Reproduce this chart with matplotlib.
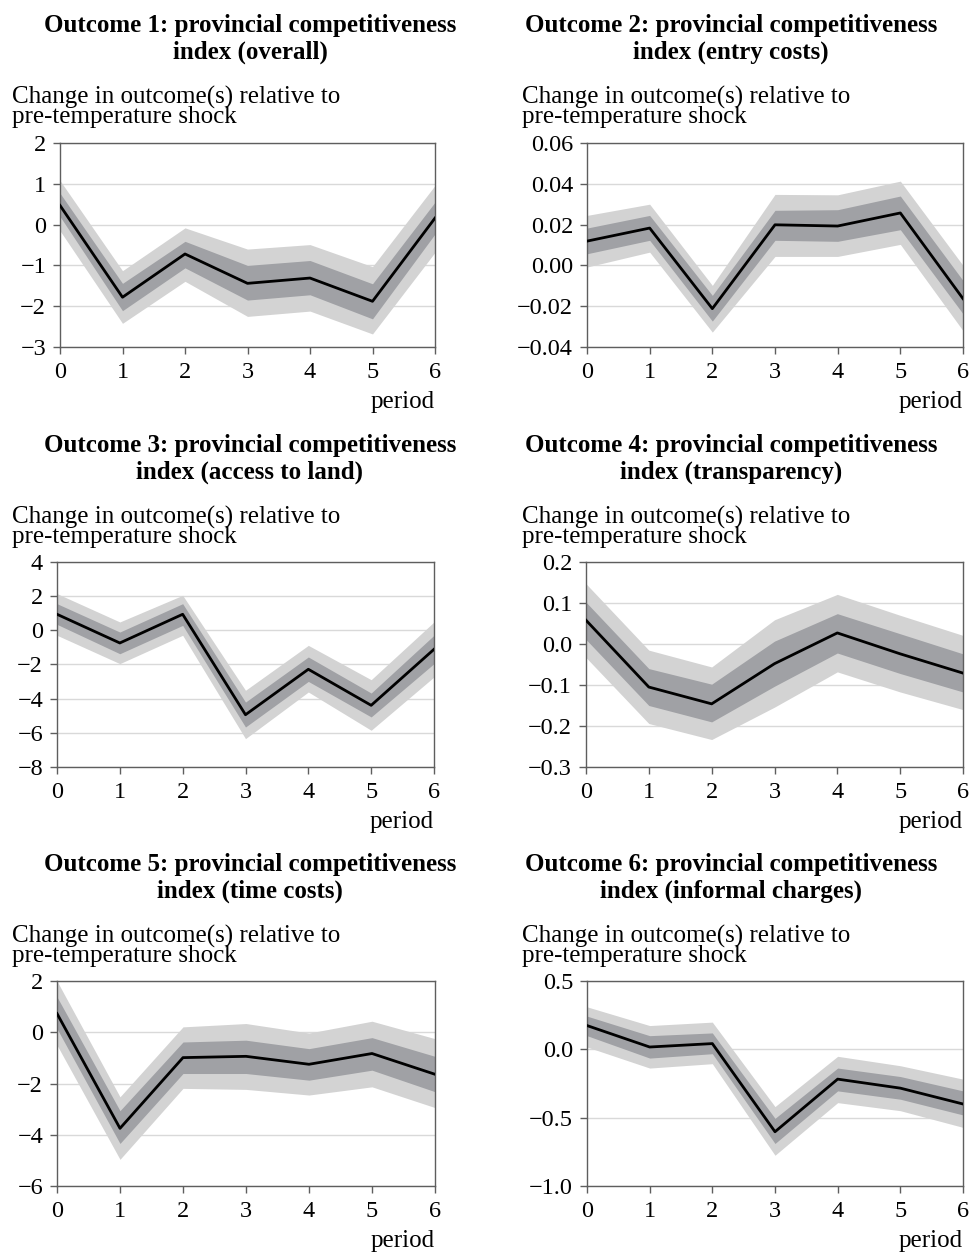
import numpy as np
import matplotlib
matplotlib.use("Agg")
import matplotlib.pyplot as plt

plt.rcParams['font.family'] = ['Liberation Serif', 'DejaVu Serif']

periods = [0, 1, 2, 3, 4, 5, 6]

titles = [
    "Outcome 1: provincial competitiveness\nindex (overall)",
    "Outcome 2: provincial competitiveness\nindex (entry costs)",
    "Outcome 3: provincial competitiveness\nindex (access to land)",
    "Outcome 4: provincial competitiveness\nindex (transparency)",
    "Outcome 5: provincial competitiveness\nindex (time costs)",
    "Outcome 6: provincial competitiveness\nindex (informal charges)",
]

# point estimates
est1 = [0.47, -1.78, -0.72, -1.44, -1.31, -1.88, 0.16]
est2 = [0.0119, 0.0183, -0.0212, 0.0199, 0.0193, 0.0257, -0.0163]
est3 = [0.94, -0.74, 0.94, -4.94, -2.28, -4.39, -1.11]
est4 = [0.058, -0.105, -0.146, -0.048, 0.027, -0.024, -0.071]
est5 = [0.73, -3.75, -0.99, -0.94, -1.25, -0.83, -1.64]
est6 = [0.174, 0.017, 0.042, -0.603, -0.218, -0.284, -0.400]

# inner band (upper, lower)
in_hi1 = [0.77, -1.44, -0.41, -1.00, -0.88, -1.45, 0.55]
in_lo1 = [0.20, -2.11, -1.06, -1.85, -1.72, -2.31, -0.23]
in_hi2 = [0.0183, 0.0245, -0.0147, 0.0270, 0.0273, 0.0340, -0.0074]
in_lo2 = [0.0057, 0.0123, -0.0273, 0.0123, 0.0118, 0.0175, -0.0237]
in_hi3 = [1.56, -0.10, 1.56, -4.20, -1.56, -3.67, -0.29]
in_lo3 = [0.35, -1.37, 0.29, -5.66, -2.99, -5.07, -1.95]
in_hi4 = [0.102, -0.060, -0.098, 0.007, 0.074, 0.025, -0.024]
in_lo4 = [0.011, -0.150, -0.190, -0.103, -0.022, -0.072, -0.117]
in_hi5 = [1.38, -3.06, -0.38, -0.31, -0.64, -0.21, -0.94]
in_lo5 = [0.14, -4.34, -1.61, -1.61, -1.87, -1.48, -2.32]
in_hi6 = [0.243, 0.100, 0.120, -0.505, -0.137, -0.199, -0.304]
in_lo6 = [0.100, -0.064, -0.032, -0.689, -0.304, -0.365, -0.480]

# outer band (upper, lower)
out_hi1 = [1.08, -1.13, -0.08, -0.60, -0.49, -1.03, 0.96]
out_lo1 = [-0.15, -2.42, -1.39, -2.25, -2.12, -2.68, -0.68]
out_hi2 = [0.0245, 0.0300, -0.0098, 0.0348, 0.0346, 0.0413, 0.0000]
out_lo2 = [-0.0008, 0.0065, -0.0327, 0.0044, 0.0044, 0.0103, -0.0320]
out_hi3 = [2.15, 0.49, 2.05, -3.51, -0.88, -2.89, 0.49]
out_lo3 = [-0.29, -1.95, -0.29, -6.34, -3.61, -5.85, -2.73]
out_hi4 = [0.147, -0.015, -0.056, 0.059, 0.121, 0.070, 0.021]
out_lo4 = [-0.033, -0.194, -0.233, -0.154, -0.068, -0.117, -0.160]
out_hi5 = [2.00, -2.52, 0.21, 0.34, -0.03, 0.43, -0.25]
out_lo5 = [-0.50, -4.96, -2.19, -2.23, -2.45, -2.13, -2.94]
out_hi6 = [0.311, 0.174, 0.199, -0.419, -0.051, -0.120, -0.218]
out_lo6 = [0.017, -0.137, -0.105, -0.775, -0.390, -0.449, -0.571]

yticks = [
    [-3, -2, -1, 0, 1, 2],
    [-0.04, -0.02, 0.00, 0.02, 0.04, 0.06],
    [-8, -6, -4, -2, 0, 2, 4],
    [-0.3, -0.2, -0.1, 0.0, 0.1, 0.2],
    [-6, -4, -2, 0, 2],
    [-1.0, -0.5, 0.0, 0.5],
]
yfmt = ["{:.0f}", "{:.2f}", "{:.0f}", "{:.1f}", "{:.0f}", "{:.1f}"]

ests = [est1, est2, est3, est4, est5, est6]
in_hi = [in_hi1, in_hi2, in_hi3, in_hi4, in_hi5, in_hi6]
in_lo = [in_lo1, in_lo2, in_lo3, in_lo4, in_lo5, in_lo6]
out_hi = [out_hi1, out_hi2, out_hi3, out_hi4, out_hi5, out_hi6]
out_lo = [out_lo1, out_lo2, out_lo3, out_lo4, out_lo5, out_lo6]

W, H = 975, 1254
fig = plt.figure(figsize=(W / 100, H / 100), dpi=100)

# axes boxes in pixels: left, right, top, bottom
lefts = [60, 587, 57, 586, 57, 587]
rights = [435, 963, 434, 963, 435, 963]
tops = [143, 143, 562, 562, 981, 981]
bottoms = [347, 347, 767, 767, 1186, 1186]
title_x = [250, 731]
row_off = [0, 420, 839]

light = "#d3d3d3"
dark = "#a0a1a5"
spine_col = "#5e5e5e"

for i in range(6):
    col = i % 2
    row = i // 2
    l, r, t, b = lefts[i], rights[i], tops[i], bottoms[i]
    ax = fig.add_axes([l / W, 1 - b / H, (r - l) / W, (b - t) / H])
    ax.fill_between(periods, out_lo[i], out_hi[i], color=light, lw=0, zorder=1)
    ax.fill_between(periods, in_lo[i], in_hi[i], color=dark, lw=0, zorder=2)
    ax.plot(periods, ests[i], color="black", lw=2.0, zorder=3)
    ax.set_xlim(0, 6)
    ax.set_ylim(yticks[i][0], yticks[i][-1])
    ax.set_xticks(periods)
    ax.set_yticks(yticks[i])
    ax.set_yticklabels([yfmt[i].format(v).replace("-", "\u2212") for v in yticks[i]])
    ax.tick_params(labelsize=17.5, direction="out", length=5, width=1,
                   color=spine_col)
    ax.tick_params(axis="x", pad=6)
    ax.tick_params(axis="y", pad=5)
    ax.yaxis.grid(True, color="#d9d9d9", lw=1)
    ax.set_axisbelow(True)
    for s in ax.spines.values():
        s.set_color(spine_col)
        s.set_linewidth(1)
    ax.text(1.0, -0.215, "period", transform=ax.transAxes, ha="right",
            va="top", fontsize=18)

    fig.text(title_x[col] / W, 1 - (14 + row_off[row]) / H, titles[i],
             ha="center", va="top", fontsize=18, fontweight="bold",
             linespacing=1.22)
    fig.text((12 + col * 510) / W, 1 - (86 + row_off[row]) / H,
             "Change in outcome(s) relative to\npre-temperature shock",
             ha="left", va="top", fontsize=18, linespacing=0.8)

fig.savefig("out.png", dpi=100)
